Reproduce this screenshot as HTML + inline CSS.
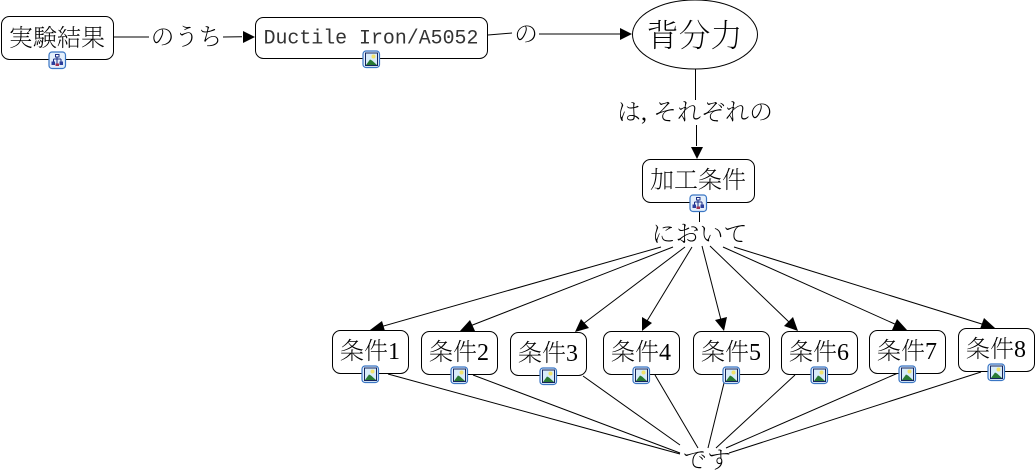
<!DOCTYPE html>
<html><head><meta charset="utf-8"><style>
html,body{margin:0;padding:0;background:#fff;width:1036px;height:474px;overflow:hidden}
svg{display:block}
text{font-family:"Liberation Serif","Noto Serif CJK JP","Noto Serif CJK SC",serif;fill:#000;text-anchor:middle;font-weight:200}
text.m{font-family:"Liberation Mono",monospace;font-weight:400;fill:#333}
rect.n,ellipse{fill:#fff;stroke:#000;stroke-width:1}
line{stroke:#000;stroke-width:1}
polygon.a{fill:#000}
</style></head><body>
<svg width="1036" height="474" viewBox="0 0 1036 474" xmlns="http://www.w3.org/2000/svg">
<defs>
<g id="ic">
<rect x="-8" y="-8" width="16.5" height="16.5" rx="3" fill="#e4effb" stroke="#3a76c4" stroke-width="1.2"/>
</g>
<g id="pic">
<use href="#ic"/>
<rect x="-5.5" y="-6" width="12" height="12.5" fill="#d8ecfa" stroke="#14245c" stroke-width="1"/>
<circle cx="2.5" cy="-2.5" r="2" fill="#f2e26a"/>
<polygon points="-5,6 -1,0.5 1,1.5 6,6" fill="#2a7a35"/>
</g>
<g id="map">
<use href="#ic"/>
<path d="M-1.5 -5.5h3.5v2.5h-3.5zM0 -3v2M-3.5 -1h7.5M-3.5 -1v2.5M4 -1v2.5M0 -1v4.5" fill="#fff" stroke="#1b2f86" stroke-width="1"/>
<rect x="-5.5" y="1.5" width="3.5" height="3.5" fill="#2c3f9c"/>
<rect x="2.5" y="1.5" width="3.5" height="3.5" fill="#2c3f9c"/>
<rect x="-1.5" y="3.5" width="3.5" height="2.5" fill="#a03050"/>
</g>
</defs>

<line x1="113" y1="37" x2="149" y2="37"/>
<line x1="223" y1="37" x2="242" y2="36.7"/>
<polygon class="a" points="255,37 243,31 243,43"/>
<line x1="488" y1="35" x2="512" y2="33"/>
<line x1="539" y1="34" x2="621" y2="34"/>
<polygon class="a" points="632,34 620,28 620,40"/>
<line x1="695.5" y1="69" x2="695.5" y2="100"/>
<line x1="696.5" y1="125" x2="696.5" y2="146"/>
<polygon class="a" points="697,159 691,147 703,147"/>
<line x1="699.5" y1="203" x2="699.5" y2="222"/>

<line x1="661" y1="247" x2="380" y2="327"/><polygon class="a" points="370,330 382,321 385,331"/>
<line x1="673" y1="247" x2="470" y2="326"/><polygon class="a" points="460,331 470,320 475,331"/>
<line x1="685" y1="247" x2="583" y2="324"/><polygon class="a" points="575,332 581,319 589,328"/>
<line x1="692" y1="247" x2="647" y2="321"/><polygon class="a" points="642,331 642,317 652,323"/>
<line x1="702" y1="246" x2="721" y2="320"/><polygon class="a" points="724,331 715,320 727,317"/>
<line x1="710" y1="246" x2="790" y2="323"/><polygon class="a" points="798,331 784,326 793,317"/>
<line x1="723" y1="247" x2="897" y2="325"/><polygon class="a" points="907,330 892,330 897,319"/>
<line x1="734" y1="247" x2="985" y2="325"/><polygon class="a" points="995,328 980,329 984,318"/>

<line x1="388" y1="374" x2="680" y2="454"/>
<line x1="473" y1="375" x2="680" y2="453"/>
<line x1="583" y1="376" x2="680" y2="445"/>
<line x1="655" y1="375" x2="698" y2="448"/>
<line x1="724" y1="383" x2="708" y2="448"/>
<line x1="795" y1="375" x2="716" y2="448"/>
<line x1="898" y1="373" x2="726" y2="448"/>
<line x1="981" y1="372" x2="729" y2="453"/>

<rect class="n" x="1.5" y="16.5" width="112" height="43" rx="8"/>
<rect class="n" x="255.5" y="17.5" width="232" height="41" rx="8"/>
<ellipse cx="695" cy="34.5" rx="62.5" ry="34.5"/>
<rect class="n" x="642.5" y="159.5" width="112" height="43" rx="8"/>
<rect class="n" x="332.5" y="330.5" width="76" height="43" rx="8"/>
<rect class="n" x="421.5" y="331.5" width="76" height="43" rx="8"/>
<rect class="n" x="510.5" y="332.5" width="76" height="43" rx="8"/>
<rect class="n" x="603.5" y="331.5" width="76" height="43" rx="8"/>
<rect class="n" x="693.5" y="331.5" width="76" height="43" rx="8"/>
<rect class="n" x="781.5" y="331.5" width="76" height="43" rx="8"/>
<rect class="n" x="869.5" y="330.5" width="76" height="43" rx="8"/>
<rect class="n" x="958.5" y="328.5" width="76" height="43" rx="8"/>

<use href="#map" x="57" y="60"/>
<use href="#pic" x="371" y="59"/>
<use href="#map" x="698" y="203"/>
<use href="#pic" x="370" y="374"/>
<use href="#pic" x="459" y="375"/>
<use href="#pic" x="548" y="376"/>
<use href="#pic" x="641" y="375"/>
<use href="#pic" x="731" y="375"/>
<use href="#pic" x="819" y="375"/>
<use href="#pic" x="907" y="374"/>
<use href="#pic" x="996" y="372"/>

<text x="57" y="46" font-size="24">実験結果</text>
<text class="m" x="371" y="43.5" font-size="19.9">Ductile Iron/A5052</text>
<text x="694.5" y="46.5" font-size="32">背分力</text>
<text x="698" y="188" font-size="24">加工条件</text>
<text x="370" y="359" font-size="24">条件1</text>
<text x="459" y="360" font-size="24">条件2</text>
<text x="548" y="361" font-size="24">条件3</text>
<text x="641" y="360" font-size="24">条件4</text>
<text x="731" y="360" font-size="24">条件5</text>
<text x="819" y="360" font-size="24">条件6</text>
<text x="907" y="359" font-size="24">条件7</text>
<text x="996" y="357" font-size="24">条件8</text>

<text x="186.5" y="45" font-size="24">のうち</text>
<text x="526" y="42" font-size="24">の</text>
<text x="695" y="120" font-size="24">は, それぞれの</text>
<text x="699.5" y="242" font-size="24">において</text>
<text x="707" y="468" font-size="24">です</text>
</svg>
</body></html>
